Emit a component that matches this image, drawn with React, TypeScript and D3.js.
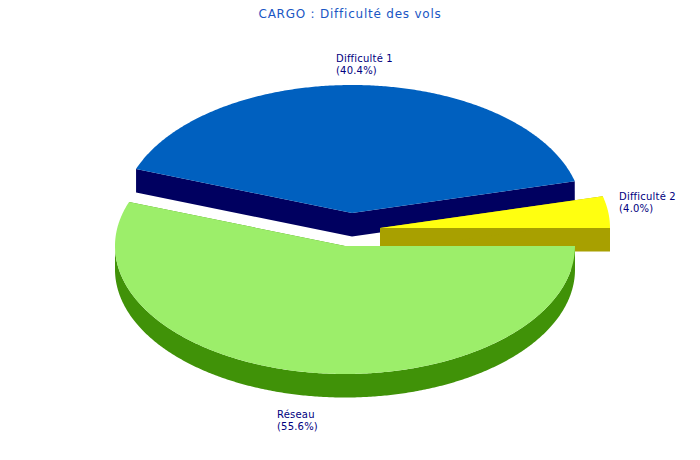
import React from "react";
import * as d3 from "d3";

const titleText = "CARGO : Difficulté des vols";
const categories = ["Difficulté 2", "Difficulté 1", "Réseau"];
const percents = [4.0, 40.4, 55.6];
const topColors = ["#ffff10", "#0060bf", "#9cee6a"];
const sideColors = ["#a8a000", "#000060", "#409208"];
const drawOrder = [1, 0, 2];

const centers = [
  { x: 380, y: 228 },
  { x: 352, y: 213 },
  { x: 345, y: 246 },
];
const labelAt = [
  { x: 619, y: 200 },
  { x: 336, y: 62 },
  { x: 277, y: 418 },
];
const RX = 230;
const RY = 128;
const DEPTH = 23.5;

const slices = d3
  .pie<number>()
  .sort(null)
  .startAngle(0)
  .endAngle(2 * Math.PI)(percents);

type Pt = [number, number];
const line = d3.line<Pt>();

function arcPoints(cx: number, cy: number, a0: number, a1: number, dy = 0): Pt[] {
  const n = Math.max(2, Math.ceil(Math.abs(a1 - a0) * RX / 2));
  const t = d3.scaleLinear().domain([0, n]).range([a0, a1]);
  return d3.range(n + 1).map((i) => {
    const a = t(i);
    return [cx + RX * Math.cos(a), cy - RY * Math.sin(a) + dy] as Pt;
  });
}

export default function App() {
  return (
    <svg
      width={700}
      height={460}
      viewBox="0 0 700 460"
      style={{ position: "absolute", left: 0, top: 0, background: "#fff" }}
      fontFamily="'DejaVu Sans', sans-serif"
    >
      <text x={350} y={18} textAnchor="middle" fontSize={12} letterSpacing={0.77} fill="#1a56c4">
        {titleText}
      </text>
      {drawOrder.map((i) => {
        const s = slices[i];
        const c = centers[i];
        const a0 = s.startAngle;
        const a1 = s.endAngle;
        const edges = [a0, a1].map((a) => {
          const p: Pt = [c.x + RX * Math.cos(a), c.y - RY * Math.sin(a)];
          const pts: Pt[] = [
            [c.x, c.y],
            p,
            [p[0], p[1] + DEPTH],
            [c.x, c.y + DEPTH],
          ];
          return line(pts) + "Z";
        });
        const lo = Math.max(a0, Math.PI);
        const hi = Math.min(a1, 2 * Math.PI);
        const outer =
          hi > lo
            ? line([...arcPoints(c.x, c.y, lo, hi), ...arcPoints(c.x, c.y, hi, lo, DEPTH)]) + "Z"
            : null;
        const top = line([[c.x, c.y] as Pt, ...arcPoints(c.x, c.y, a0, a1)]) + "Z";
        return (
          <g key={categories[i]}>
            {edges.map((d, j) => (
              <path key={j} d={d} fill={sideColors[i]} />
            ))}
            {outer && <path d={outer} fill={sideColors[i]} />}
            <path d={top} fill={topColors[i]} />
          </g>
        );
      })}
      {categories.map((name, i) => (
        <text key={name} x={labelAt[i].x} y={labelAt[i].y} fontSize={10} letterSpacing={0.2} fill="#000080">
          <tspan x={labelAt[i].x}>{name}</tspan>
          <tspan x={labelAt[i].x} dy={12}>{`(${percents[i].toFixed(1)}%)`}</tspan>
        </text>
      ))}
    </svg>
  );
}
